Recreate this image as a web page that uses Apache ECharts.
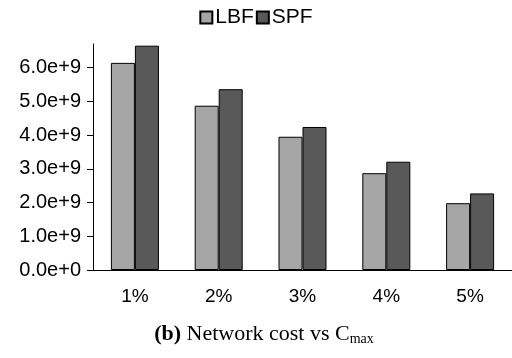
<!DOCTYPE html>
<html>
<head>
<meta charset="utf-8">
<script src="https://cdn.jsdelivr.net/npm/echarts@6/dist/echarts.min.js"></script>
<style>
  html, body { margin: 0; padding: 0; background: #fff; }
  #chart { width: 512px; height: 358px; }
</style>
</head>
<body>
<div id="chart"></div>
<script>
// values
const categories = ['1%', '2%', '3%', '4%', '5%'];
const lbf = [6.14e9, 4.87e9, 3.95e9, 2.87e9, 1.98e9];
const spf = [6.65e9, 5.36e9, 4.24e9, 3.21e9, 2.27e9];
const yTicks = [0, 1e9, 2e9, 3e9, 4e9, 5e9, 6e9];

const chart = echarts.init(document.getElementById('chart'));

const option = {
  animation: false,
  textStyle: { fontFamily: 'Liberation Sans, Arial, sans-serif' },
  title: {
    text: '{b|(b)} Network cost vs C{sub|max}',
    left: 259,
    textAlign: 'center',
    top: 317,
    textStyle: {
      rich: {
        b: { fontFamily: 'Liberation Serif', fontWeight: 'bold', fontSize: 22, color: '#000' },
        sub: { fontFamily: 'Liberation Serif', fontSize: 14, color: '#000', verticalAlign: 'bottom', padding: [10, 0, 0, 0] }
      },
      fontFamily: 'Liberation Serif',
      fontWeight: 'normal',
      fontSize: 22,
      color: '#000'
    }
  },
  legend: {
    top: 2,
    left: 'center',
    icon: 'rect',
    itemWidth: 12,
    itemHeight: 12,
    itemGap: 2,
    textStyle: { fontSize: 21, color: '#000', padding: [0, 0, 0, -2] },
    data: ['LBF', 'SPF']
  },
  grid: { left: 93, top: 44, width: 421, height: 226 },
  xAxis: {
    type: 'category',
    data: categories,
    axisLine: { lineStyle: { color: '#000', width: 1 } },
    axisTick: { length: 5, lineStyle: { color: '#000' } },
    axisLabel: { fontSize: 19, color: '#000', margin: 17 }
  },
  yAxis: {
    type: 'value',
    min: 0,
    max: 6.7e9,
    splitLine: { show: false },
    axisLine: { show: true, lineStyle: { color: '#000', width: 1 } },
    axisTick: { show: true, length: 6, customValues: yTicks, lineStyle: { color: '#000' } },
    axisLabel: {
      fontSize: 20,
      color: '#000',
      margin: 12,
      customValues: yTicks,
      formatter: v => (v / 1e9).toFixed(1) + 'e+' + (v === 0 ? 0 : 9)
    }
  },
  series: [
    {
      name: 'LBF',
      type: 'bar',
      data: lbf,
      barWidth: 24,
      barGap: '0%',
      itemStyle: { color: '#a6a6a6', borderColor: '#000', borderWidth: 1 }
    },
    {
      name: 'SPF',
      type: 'bar',
      data: spf,
      barWidth: 24,
      itemStyle: { color: '#595959', borderColor: '#000', borderWidth: 1 }
    }
  ]
};

chart.setOption(option);
window.addEventListener('resize', () => chart.resize());
</script>
</body>
</html>
